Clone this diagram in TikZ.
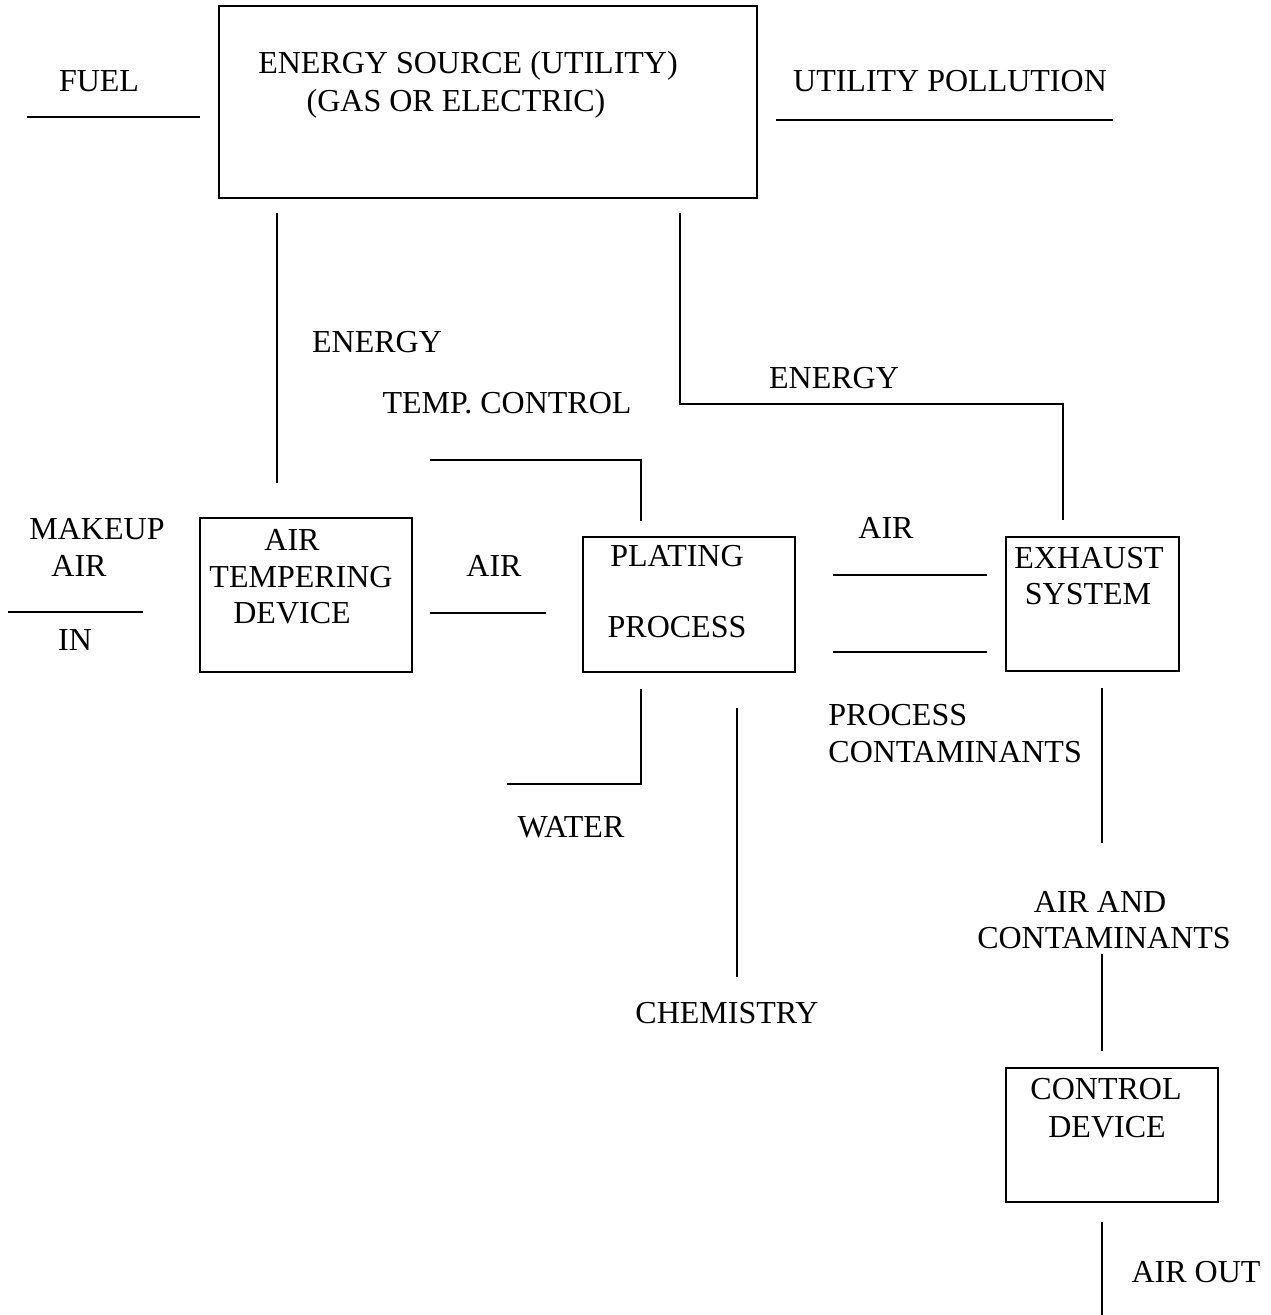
\documentclass[tikz,border=0pt]{standalone}
\usepackage{fontspec}
\setmainfont{Liberation Serif}
\usetikzlibrary{positioning,calc}

\begin{document}
\begin{tikzpicture}[
  x=0.5pt,y=-0.5pt,
  font=\fontsize{16}{19}\selectfont,
  unit/.style={draw,line width=1pt,inner sep=0pt,outer sep=0pt},
  lbl/.style={inner sep=0pt,anchor=base,align=center},
  flow/.style={line width=1pt},
]
  \useasboundingbox (0,0) rectangle (1270,1315);

  % blocks
  \node[unit,minimum width=269pt,minimum height=96pt] (src) at (488,102) {};
  \node[unit,minimum width=106pt,minimum height=77pt] (temper) at (306,595) {};
  \node[unit,minimum width=106pt,minimum height=67.5pt] (plate) at (689,604.5) {};
  \node[unit,minimum width=86.5pt,minimum height=67pt] (exh) at (1092.5,604) {};
  \node[unit,minimum width=106pt,minimum height=67pt] (ctrl) at (1112,1135) {};

  % block texts
  \node[lbl] (srcA) at (468,74) {ENERGY SOURCE (UTILITY)};
  \node[lbl] (srcB) at (456,112) {(GAS OR ELECTRIC)};
  \node[lbl] (tmpA) at (292,550) {AIR};
  \node[lbl] (tmpB) at (301,587) {TEMPERING};
  \node[lbl] (tmpC) at (292,623) {DEVICE};
  \node[lbl] (plA) at (677,566) {PLATING};
  \node[lbl] (plB) at (677,637) {PROCESS};
  \node[lbl] (exA) at (1089,568) {EXHAUST};
  \node[lbl] (exB) at (1088,604) {SYSTEM};
  \node[lbl] (ctA) at (1106,1099) {CONTROL};
  \node[lbl] (ctB) at (1107,1137) {DEVICE};

  % stream labels
  \node[lbl] (fuel) at (99,92) {FUEL};
  \node[lbl] (upoll) at (950,92) {UTILITY POLLUTION};
  \node[lbl] (enA) at (377,353) {ENERGY};
  \node[lbl] (enB) at (834,389) {ENERGY};
  \node[lbl] (tctl) at (507,414) {TEMP. CONTROL};
  \node[lbl] (mkA) at (97,539) {MAKEUP};
  \node[lbl] (mkB) at (79,576) {AIR};
  \node[lbl] (mkC) at (75,650) {IN};
  \node[lbl] (airA) at (494,576) {AIR};
  \node[lbl] (airB) at (886,538) {AIR};
  \node[lbl,anchor=base west,align=left] (pcA) at (828,725) {PROCESS};
  \node[lbl,anchor=base west,align=left] (pcB) at (828,762) {CONTAMINANTS};
  \node[lbl] (acA) at (1100,912) {AIR AND};
  \node[lbl] (acB) at (1104,948) {CONTAMINANTS};
  \node[lbl] (water) at (571,837) {WATER};
  \node[lbl] (chem) at (727,1023) {CHEMISTRY};
  \node[lbl] (aout) at (1196,1282) {AIR OUT};

  % line ends
  \coordinate (fuelL) at (27,117);   \coordinate (fuelR) at (200,117);
  \coordinate (upL) at (776,120);    \coordinate (upR) at (1113,120);
  \coordinate (e1T) at (277,213);    \coordinate (e1B) at (277,483);
  \coordinate (e2T) at (680,213);    \coordinate (e2K) at (680,404);
  \coordinate (e2J) at (1063,404);   \coordinate (e2B) at (1063,520);
  \coordinate (tcL) at (430,460);    \coordinate (tcK) at (641,460);
  \coordinate (tcB) at (641,521);
  \coordinate (mkL) at (8,612);      \coordinate (mkR) at (143,612);
  \coordinate (a1L) at (430,613);    \coordinate (a1R) at (546,613);
  \coordinate (a2L) at (833,575);    \coordinate (a2R) at (987,575);
  \coordinate (a3L) at (833,652);    \coordinate (a3R) at (987,652);
  \coordinate (wT) at (641,689);     \coordinate (wK) at (641,784);
  \coordinate (wL) at (507,784);
  \coordinate (chT) at (737,708);    \coordinate (chB) at (737,977);
  \coordinate (x1T) at (1102,688);   \coordinate (x1B) at (1102,843);
  \coordinate (x2T) at (1102,954);   \coordinate (x2B) at (1102,1051);
  \coordinate (x3T) at (1102,1222);  \coordinate (x3B) at (1102,1315);

  % streams
  \draw[flow] (fuelL) -- (fuelR);
  \draw[flow] (upL) -- (upR);
  \draw[flow] (e1T) -- (e1B);
  \draw[flow] (e2T) -- (e2K) -- (e2J) -- (e2B);
  \draw[flow] (tcL) -- (tcK) -- (tcB);
  \draw[flow] (mkL) -- (mkR);
  \draw[flow] (a1L) -- (a1R);
  \draw[flow] (a2L) -- (a2R);
  \draw[flow] (a3L) -- (a3R);
  \draw[flow] (wT) -- (wK) -- (wL);
  \draw[flow] (chT) -- (chB);
  \draw[flow] (x1T) -- (x1B);
  \draw[flow] (x2T) -- (x2B);
  \draw[flow] (x3T) -- (x3B);
\end{tikzpicture}
\end{document}
